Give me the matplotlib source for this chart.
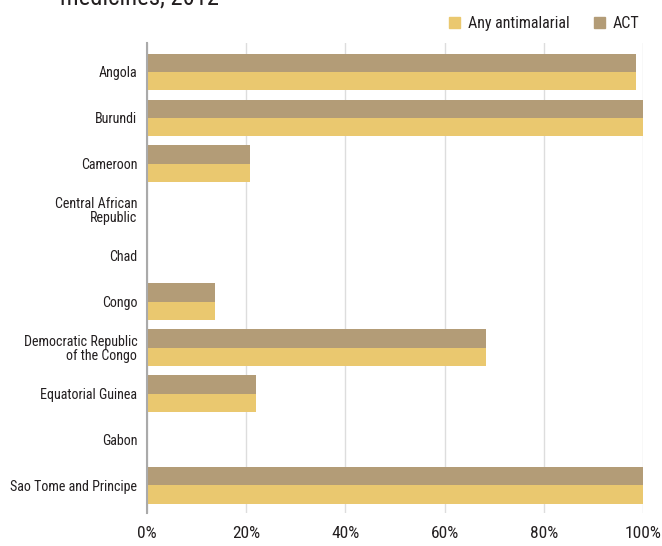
import matplotlib
matplotlib.use("Agg")
import matplotlib.pyplot as plt
from matplotlib.patches import Patch
import numpy as np

plt.rcParams['font.family'] = ['Roboto Condensed', 'Roboto', 'DejaVu Sans']

countries = ["Angola", "Burundi", "Cameroon", "Central African\nRepublic", "Chad", "Congo",
             "Democratic Republic\nof the Congo", "Equatorial Guinea", "Gabon", "Sao Tome and Principe"]
any_antimalarial = [98.5, 100, 20.8, 0, 0, 13.8, 68.4, 22.0, 0, 100]
act = [98.5, 100, 20.8, 0, 0, 13.8, 68.4, 22.0, 0, 100]
xticks = [0, 20, 40, 60, 80, 100]
xtick_labels = ["0%", "20%", "40%", "60%", "80%", "100%"]

c_any = "#EAC86F"
c_act = "#B39C77"

fig = plt.figure(figsize=(6.62, 5.46), dpi=100)
ax = fig.add_axes([147/662, 1-513/546, (643-147)/662, (513-43)/546])

y = np.arange(len(countries))
h = 0.4
ax.barh(y - h/2, act, height=h, color=c_act, zorder=3)
ax.barh(y + h/2, any_antimalarial, height=h, color=c_any, zorder=3)

ax.set_xlim(0, 100)
ax.set_ylim(9.6, -0.63)
ax.set_yticks(y)
ax.set_yticklabels(countries, fontsize=10.1, color="#231F20", linespacing=0.95)
ax.set_xticks(xticks)
ax.set_xticklabels(xtick_labels, fontsize=12.5, color="#231F20")
ax.tick_params(axis='y', length=0, pad=7)
ax.tick_params(axis='x', length=0, pad=9)
ax.grid(axis='x', color="#DDDDDD", linewidth=1, zorder=0)
for s in ["top", "right", "bottom"]:
    ax.spines[s].set_visible(False)
ax.spines["left"].set_color("#AAAAAA")
ax.spines["left"].set_linewidth(1.5)
ax.spines["left"].set_zorder(4)

fig.text(60/662, 1-5/546, "medicines, 2012", fontsize=17.7, color="#231F20",
         ha="left", va="baseline")

handles = [Patch(color=c_any, label="Any antimalarial"), Patch(color=c_act, label="ACT")]
fig.legend(handles=handles, loc="upper right", bbox_to_anchor=(654/662, 1-2/546), ncol=2,
           frameon=False, fontsize=11.5, handlelength=0.7, handleheight=0.7,
           handletextpad=0.5, columnspacing=1.5, labelcolor="#231F20")

fig.savefig("out.png", dpi=100)
